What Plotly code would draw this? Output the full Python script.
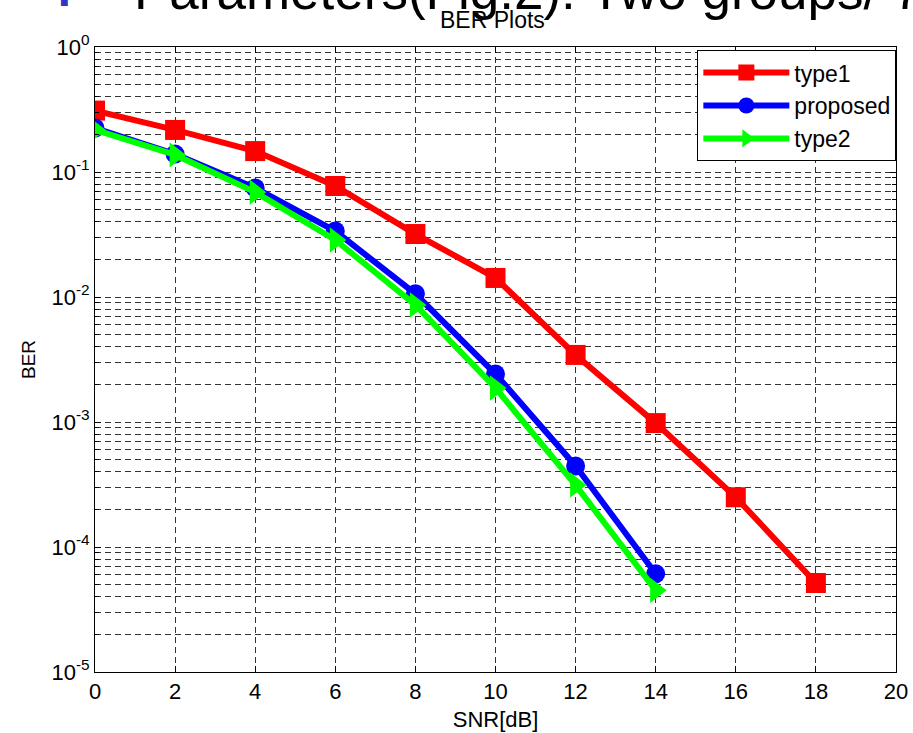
import plotly.graph_objects as go

snr_type1 = [0, 2, 4, 6, 8, 10, 12, 14, 16, 18]
ber_type1 = [0.31, 0.217, 0.147, 0.0773, 0.0319, 0.0142, 0.00344, 9.8e-4, 2.5e-4, 5.15e-5]

snr_prop = [0, 2, 4, 6, 8, 10, 12, 14]
ber_prop = [0.225, 0.139, 0.0745, 0.0337, 0.0106, 0.00242, 4.45e-4, 6.1e-5]

snr_type2 = [0, 2, 4, 6, 8, 10, 12, 14]
ber_type2 = [0.217, 0.137, 0.069, 0.0286, 0.00863, 0.00187, 3.13e-4, 4.5e-5]

x_ticks = list(range(0, 21, 2))
y_tick_vals = [1e-5, 1e-4, 1e-3, 1e-2, 1e-1, 1e0]
y_tick_text = ["10<sup>-5</sup>", "10<sup>-4</sup>", "10<sup>-3</sup>",
               "10<sup>-2</sup>", "10<sup>-1</sup>", "10<sup>0</sup>"]
minor_vals = [m * 10 ** e for e in range(-5, 0) for m in range(2, 10)]

FONT = "Liberation Sans, Arial, sans-serif"

fig = go.Figure()
fig.add_trace(go.Scatter(x=snr_type1, y=ber_type1, name="type1", mode="lines+markers",
                         line=dict(color="#ff0000", width=6),
                         marker=dict(symbol="square", size=20, color="#ff0000")))
fig.add_trace(go.Scatter(x=snr_prop, y=ber_prop, name="proposed", mode="lines+markers",
                         line=dict(color="#0000ff", width=6),
                         marker=dict(symbol="circle", size=19, color="#0000ff")))
fig.add_trace(go.Scatter(x=snr_type2, y=ber_type2, name="type2", mode="lines+markers",
                         line=dict(color="#00ff00", width=6),
                         marker=dict(symbol="triangle-right", size=22, color="#00ff00")))

grid = dict(gridcolor="#333333", gridwidth=1, griddash="6px,4px")

fig.update_layout(
    width=913, height=733,
    margin=dict(l=95, r=17, t=47, b=61, autoexpand=False),
    paper_bgcolor="white", plot_bgcolor="white",
    font=dict(family=FONT, size=22, color="black"),
    showlegend=True,
    legend=dict(x=0.752, xanchor="left", y=0.995, yanchor="top",
                bgcolor="white", bordercolor="black", borderwidth=1,
                font=dict(size=23, family=FONT), itemwidth=86,
                tracegroupgap=0),
    xaxis=dict(range=[0, 20], tickvals=x_ticks, showgrid=True, **grid,
               showline=True, linecolor="black", linewidth=1, mirror="ticks",
               ticks="inside", ticklen=6, tickcolor="black",
               tickfont=dict(size=22, family=FONT), automargin=False,
               zeroline=False,
               title=dict(text="SNR[dB]", standoff=8, font=dict(size=22))),
    yaxis=dict(type="log", range=[-5, 0], tickvals=y_tick_vals, ticktext=y_tick_text,
               showgrid=True, **grid,
               showline=True, linecolor="black", linewidth=1, mirror="ticks",
               ticks="inside", ticklen=6, tickcolor="black", zeroline=False,
               tickfont=dict(size=22, family=FONT), automargin=False,
               minor=dict(tickvals=minor_vals, showgrid=True, ticks="inside",
                          ticklen=4, tickcolor="black", **grid),
               title=dict(text="BER", standoff=10, font=dict(size=19))),
)

fig.add_annotation(text="Parameters(Fig.2): Two groups/ 7", xref="paper", yref="paper",
                   x=(132 - 95) / 801, y=1 + 57 / 625, xanchor="left", yanchor="middle",
                   showarrow=False, font=dict(size=53, family=FONT, color="black"))
fig.add_annotation(text="■", xref="paper", yref="paper",
                   x=(64 - 95) / 801, y=1 + 45 / 625, xanchor="center", yanchor="middle",
                   showarrow=False, font=dict(size=14, family=FONT, color="#3333cc"))
# chart title drawn after the slide text so it stays on top
fig.add_annotation(text="BER Plots", xref="paper", yref="paper",
                   x=(492 - 95) / 801, y=1 + 27 / 625, xanchor="center", yanchor="middle",
                   showarrow=False, font=dict(size=23, family=FONT, color="black"),
                   bgcolor="rgba(255,255,255,0)")

fig.write_html("out.html")
